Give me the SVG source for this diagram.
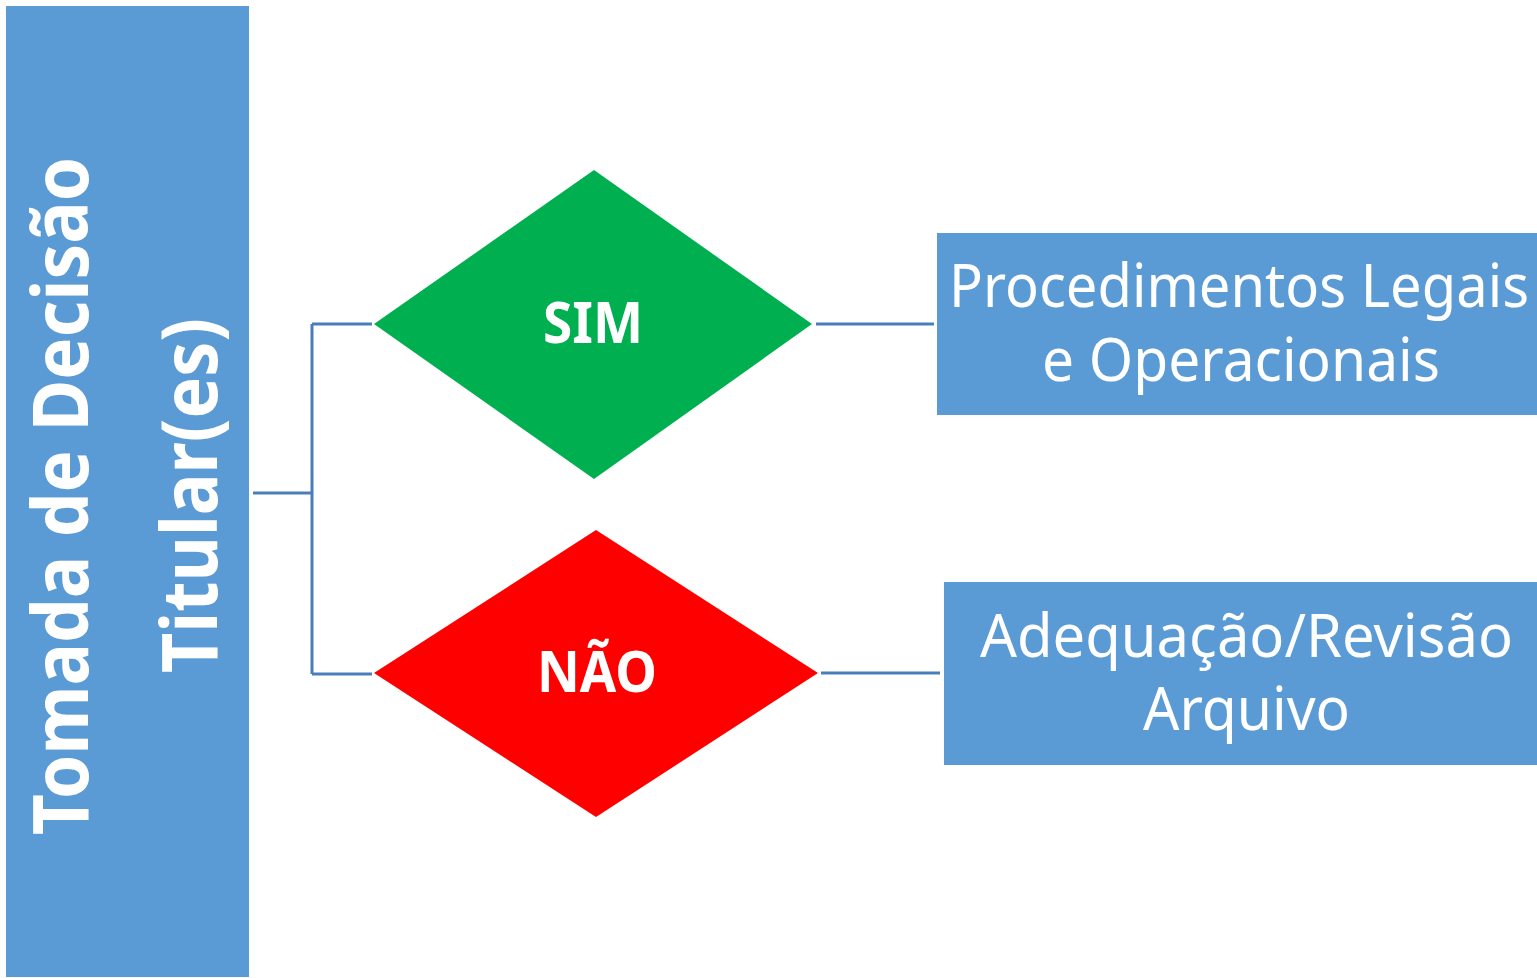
<svg xmlns="http://www.w3.org/2000/svg" width="1537" height="978" viewBox="0 0 1537 978">
<style>
.box{fill:#5B9BD5;}
.conn{stroke:#4A7EBB;stroke-width:3;fill:none;}
.t{fill:#FFFFFF;font-family:"Noto Sans","Open Sans","DejaVu Sans",sans-serif;}
.b{font-weight:bold;}
</style>
<rect width="1537" height="978" fill="#FFFFFF"/>
<g id="connectors">
<path class="conn" d="M253,493 H312 M312,324 V674 M312,324 H372 M312,674 H372"/>
<path class="conn" d="M816,324 H934"/>
<path class="conn" d="M821,673 H940"/>
</g>
<g id="titular">
<rect class="box" x="6" y="6" width="243" height="971"/>
<text class="t b" font-size="77" transform="translate(88,835) rotate(-90)" textLength="678" lengthAdjust="spacingAndGlyphs">Tomada de Decisão</text>
<text class="t b" font-size="77" transform="translate(217,673) rotate(-90)" textLength="355" lengthAdjust="spacingAndGlyphs">Titular(es)</text>
</g>
<g id="sim">
<polygon points="374,324 594,170 812,324 594,479" fill="#00B050"/>
<text class="t b" x="543" y="343" font-size="58" textLength="100" lengthAdjust="spacingAndGlyphs">SIM</text>
</g>
<g id="nao">
<polygon points="374,673 596,530 818,673 596,817" fill="#FF0000"/>
<text class="t b" x="537" y="692" font-size="58" textLength="120" lengthAdjust="spacingAndGlyphs">NÃO</text>
</g>
<g id="procedimentos">
<rect class="box" x="937" y="233" width="600" height="182"/>
<text class="t" x="949" y="307" font-size="60" textLength="580" lengthAdjust="spacingAndGlyphs">Procedimentos Legais</text>
<text class="t" x="1042" y="381" font-size="60" textLength="398" lengthAdjust="spacingAndGlyphs">e Operacionais</text>
</g>
<g id="adequacao">
<rect class="box" x="944" y="582" width="593" height="183"/>
<text class="t" x="980" y="657" font-size="60" textLength="533" lengthAdjust="spacingAndGlyphs">Adequação/Revisão</text>
<text class="t" x="1143" y="730" font-size="60" textLength="207" lengthAdjust="spacingAndGlyphs">Arquivo</text>
</g>
</svg>
